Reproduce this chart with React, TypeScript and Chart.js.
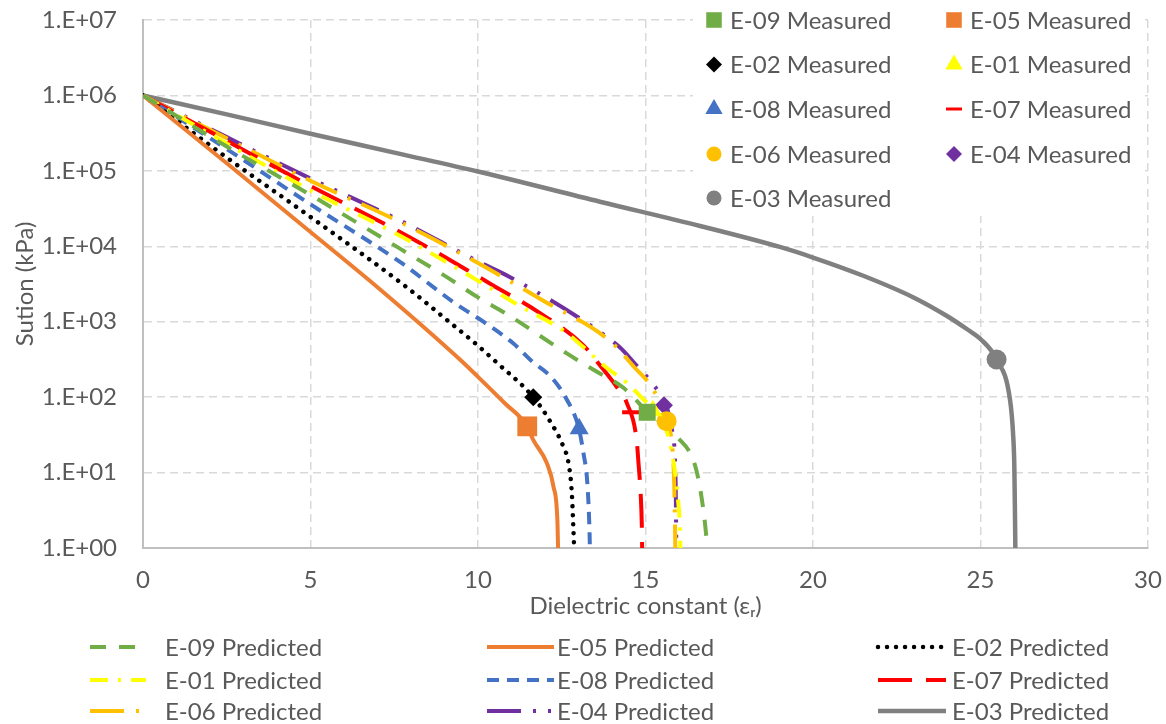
import React, { useEffect, useRef } from 'react';
import { Chart, registerables } from 'chart.js';
import { drawPoint } from 'chart.js/helpers';

Chart.register(...registerables);

const FONT = 'Lato, "Open Sans", sans-serif';
const TEXT = '#595959';

// ---------- Predicted curves (dielectric constant, suction kPa) ----------
const e09PredX = [0, 2.5, 5, 7.67, 9.07, 10, 10.86, 12.65, 13.46, 14.34, 15.03, 15.95, 16.48, 16.68, 16.81, 16.84];
const e09PredY = [1e6, 2.1e5, 4.8e4, 9.3e3, 3.9e3, 2.1e3, 1.26e3, 380, 229, 133, 66, 29.5, 12.4, 4.5, 1.5, 1];

const e05PredX = [0, 2.5, 5, 7.07, 9.46, 10, 10.8, 11.47, 11.64, 12.05, 12.25, 12.37, 12.39];
const e05PredY = [1e6, 1.26e5, 1.55e4, 2.7e3, 316, 186, 83, 41, 27.5, 13.5, 6.6, 2.3, 1];

const e02PredX = [0, 2.5, 5, 7.77, 9.16, 10, 10.56, 11.65, 12.15, 12.55, 12.7, 12.8, 12.85, 12.87];
const e02PredY = [1e6, 1.5e5, 2.45e4, 3.1e3, 980, 480, 287, 100, 48, 22, 13.5, 5.4, 1.7, 1];

const e01PredX = [0, 2.5, 5, 7.67, 10, 11.15, 12.6, 13.84, 14.44, 14.94, 15.23, 15.73, 15.98, 16.03, 16.04];
const e01PredY = [1e6, 2.3e5, 5.5e4, 1.38e4, 3.5e3, 1.71e3, 733, 245, 155, 93, 69, 24.5, 3.9, 1.7, 1];

const e08PredX = [0, 2.5, 5, 7.67, 9.31, 10.16, 11.05, 11.6, 12.2, 12.65, 13.0, 13.14, 13.27, 13.33, 13.34];
const e08PredY = [1e6, 1.95e5, 3.6e4, 6.2e3, 1.76e3, 1e3, 518, 301, 181, 93, 40, 19, 6.6, 1.6, 1];

const e07PredX = [0, 2.5, 5, 7.67, 9.01, 10.44, 11.85, 13.14, 13.64, 14.16, 14.44, 14.74, 14.79, 14.86, 14.89, 14.9];
const e07PredY = [1e6, 2.5e5, 6.3e4, 1.55e4, 7.2e3, 3.05e3, 1.3e3, 490, 265, 133, 84, 26, 13.5, 4.8, 2, 1];

const e06PredX = [0, 2.5, 5, 7.67, 10, 11.95, 13.94, 14.64, 15.23, 15.63, 15.81, 15.86, 15.88, 15.89];
const e06PredY = [1e6, 2.7e5, 7.4e4, 2.1e4, 6e3, 1.9e3, 556, 257, 126, 50, 19, 6.3, 2, 1];

const e04PredX = [0, 2.5, 5, 7.67, 10, 10.96, 13.36, 14.24, 14.64, 15.33, 15.58, 15.79, 15.9, 15.92];
const e04PredY = [1e6, 2.8e5, 7.9e4, 2.2e4, 6.3e3, 3.9e3, 890, 454, 292, 129, 85, 37, 7.2, 1];

const e03PredX = [0, 2.5, 5, 7.67, 10, 13.64, 16.63, 19.01, 20, 21.5, 23, 24, 24.6, 25, 25.48, 25.88, 25.97, 26.01, 26.03, 26.04];
const e03PredY = [1e6, 5.6e5, 3.1e5, 1.68e5, 9.8e4, 3.9e4, 1.86e4, 9.8e3, 7.1e3, 4.07e3, 2.1e3, 1.19e3, 794, 590, 316, 93, 34, 12, 2.6, 1];

// ---------- Measured points ----------
const measuredLabels = ['E-09', 'E-05', 'E-02', 'E-01', 'E-08', 'E-07', 'E-06', 'E-04', 'E-03'];
const measuredX = [15.05, 11.47, 11.65, 15.22, 13.02, 14.6, 15.63, 15.55, 25.48];
const measuredY = [63, 41, 100, 66, 38, 63, 48, 78, 316];

// ---------- Axis ticks ----------
const xTickValues = [0, 5, 10, 15, 20, 25, 30];
const yTickValues = [1, 10, 100, 1e3, 1e4, 1e5, 1e6, 1e7];
const yTickLabels = ['1.E+00', '1.E+01', '1.E+02', '1.E+03', '1.E+04', '1.E+05', '1.E+06', '1.E+07'];

const zip = (xs: number[], ys: number[]) => xs.map((x, i) => ({ x, y: ys[i] }));

const predicted = [
  { label: 'E-09 Predicted', x: e09PredX, y: e09PredY, color: '#70AD47', dash: [16, 13], width: 4, cap: 'butt' },
  { label: 'E-05 Predicted', x: e05PredX, y: e05PredY, color: '#ED7D31', dash: [], width: 4, cap: 'butt' },
  { label: 'E-02 Predicted', x: e02PredX, y: e02PredY, color: '#000000', dash: [0.01, 9], width: 4.5, cap: 'round' },
  { label: 'E-01 Predicted', x: e01PredX, y: e01PredY, color: '#FFFF00', dash: [18, 10, 3, 10], width: 4, cap: 'butt' },
  { label: 'E-08 Predicted', x: e08PredX, y: e08PredY, color: '#4472C4', dash: [12, 8], width: 4, cap: 'butt' },
  { label: 'E-07 Predicted', x: e07PredX, y: e07PredY, color: '#FF0000', dash: [34, 14], width: 4, cap: 'butt' },
  { label: 'E-06 Predicted', x: e06PredX, y: e06PredY, color: '#FFC000', dash: [34, 12, 3, 12], width: 4, cap: 'butt' },
  { label: 'E-04 Predicted', x: e04PredX, y: e04PredY, color: '#7030A0', dash: [34, 12, 3, 12, 3, 12], width: 4, cap: 'butt' },
  { label: 'E-03 Predicted', x: e03PredX, y: e03PredY, color: '#808080', dash: [], width: 4.5, cap: 'butt' },
];

const measuredStyle: Record<string, { color: string; style: string; r: number; lr: number }> = {
  'E-09': { color: '#70AD47', style: 'rect', r: 12, lr: 11 },
  'E-05': { color: '#ED7D31', style: 'rect', r: 14, lr: 11 },
  'E-02': { color: '#000000', style: 'rectRot', r: 9, lr: 8 },
  'E-01': { color: '#FFFF00', style: 'triangle', r: 11, lr: 10 },
  'E-08': { color: '#4472C4', style: 'triangle', r: 11, lr: 10 },
  'E-07': { color: '#FF0000', style: 'line', r: 10, lr: 8 },
  'E-06': { color: '#FFC000', style: 'circle', r: 10, lr: 7.5 },
  'E-04': { color: '#7030A0', style: 'rectRot', r: 9, lr: 8 },
  'E-03': { color: '#808080', style: 'circle', r: 10, lr: 7.5 },
};

const legendPlugin = {
  id: 'customLegends',
  afterDraw(chart: any) {
    const ctx: CanvasRenderingContext2D = chart.ctx;
    ctx.save();
    // measured legend box (inside plot, top right)
    ctx.fillStyle = '#ffffff';
    ctx.fillRect(693, 0, 450, 216);
    ctx.font = `24px ${FONT}`;
    ctx.textBaseline = 'middle';
    ctx.textAlign = 'left';
    const mRows = [20, 64.5, 109, 154, 198];
    const mCols = [{ mx: 714, tx: 730 }, { mx: 954, tx: 970 }];
    measuredLabels.forEach((lab, i) => {
      const row = Math.floor(i / 2);
      const col = i % 2;
      const st = measuredStyle[lab];
      const cx = mCols[col].mx;
      const cy = mRows[row];
      ctx.fillStyle = st.color;
      ctx.strokeStyle = st.color;
      ctx.lineWidth = st.style === 'line' ? 3 : 0;
      drawPoint(ctx, { pointStyle: st.style, rotation: 0, radius: st.lr, borderWidth: st.style === 'line' ? 3 : 0 } as any, cx, cy);
      ctx.fillStyle = TEXT;
      ctx.fillText(`${lab} Measured`, mCols[col].tx, cy + 1);
    });
    // predicted legend (below)
    const pRows = [647, 680, 711];
    const pCols = [{ x0: 90, x1: 146, tx: 165 }, { x0: 487, x1: 554, tx: 557 }, { x0: 878, x1: 946, tx: 952 }];
    predicted.forEach((p, i) => {
      const row = Math.floor(i / 3);
      const col = i % 3;
      const y = pRows[row];
      const c = pCols[col];
      ctx.save();
      ctx.strokeStyle = p.color;
      ctx.lineWidth = p.width;
      ctx.lineCap = p.cap as CanvasLineCap;
      ctx.setLineDash(p.dash);
      ctx.beginPath();
      ctx.moveTo(c.x0, y);
      ctx.lineTo(c.x1, y);
      ctx.stroke();
      ctx.restore();
      ctx.fillStyle = TEXT;
      ctx.fillText(p.label, c.tx, y + 1);
    });
    ctx.restore();
  },
};

export default function App() {
  const ref = useRef<HTMLCanvasElement>(null);
  useEffect(() => {
    document.body.style.margin = '0';
    const canvas = ref.current;
    if (!canvas) return;
    const measuredSets = measuredLabels.map((lab, i) => {
      const st = measuredStyle[lab];
      return {
        label: `${lab} Measured`,
        data: [{ x: measuredX[i], y: measuredY[i] }],
        showLine: false,
        order: 0,
        pointStyle: st.style,
        pointRadius: st.r,
        pointBackgroundColor: st.color,
        pointBorderColor: st.color,
        pointBorderWidth: st.style === 'line' ? 4 : 0,
      };
    });
    const lineSets = predicted.map((p) => ({
      label: p.label,
      data: zip(p.x, p.y),
      showLine: true,
      order: 1,
      borderColor: p.color,
      backgroundColor: p.color,
      borderWidth: p.width,
      borderDash: p.dash,
      borderCapStyle: p.cap,
      borderJoinStyle: 'round',
      cubicInterpolationMode: 'monotone',
      pointRadius: 0,
      fill: false,
    }));
    const chart = new Chart(canvas, {
      type: 'scatter',
      data: { datasets: [...measuredSets, ...lineSets] as any },
      plugins: [legendPlugin],
      options: {
        animation: false,
        responsive: false,
        events: [],
        layout: { padding: { left: 0, right: 18, top: 20, bottom: 103 } },
        plugins: { legend: { display: false }, tooltip: { enabled: false } },
        scales: {
          x: {
            type: 'linear',
            min: 0,
            max: 30,
            afterBuildTicks: (scale: any) => {
              scale.ticks = xTickValues.map((v) => ({ value: v }));
            },
            afterFit: (scale: any) => {
              scale.height = 73;
              scale.paddingLeft = 0;
              scale.paddingRight = 0;
            },
            grid: { color: '#D9D9D9', lineWidth: 1.5, drawTicks: false },
            border: { display: true, color: '#BFBFBF', width: 2, dash: [8, 5] },
            ticks: { color: TEXT, font: { family: FONT, size: 24 }, padding: 18, maxRotation: 0 },
            title: {
              display: true,
              text: 'Dielectric constant (εᵣ)',
              color: TEXT,
              font: { family: FONT, size: 24 },
              padding: { top: 0, bottom: 0 },
            },
          },
          y: {
            type: 'logarithmic',
            min: 1,
            max: 1e7,
            afterBuildTicks: (scale: any) => {
              scale.ticks = yTickValues.map((v) => ({ value: v }));
            },
            afterFit: (scale: any) => {
              scale.width = 143;
              scale.paddingTop = 0;
              scale.paddingBottom = 0;
            },
            grid: { color: '#D9D9D9', lineWidth: 1.5, drawTicks: false },
            border: { display: true, color: '#BFBFBF', width: 2, dash: [8, 5] },
            ticks: {
              color: TEXT,
              font: { family: FONT, size: 24 },
              padding: 26,
              callback: (_v: any, i: number) => yTickLabels[i],
            },
            title: {
              display: true,
              text: 'Sution (kPa)',
              color: TEXT,
              font: { family: FONT, size: 24 },
              padding: { top: 11, bottom: 0 },
            },
          },
        },
      } as any,
    });
    return () => chart.destroy();
  }, []);
  return (
    <div style={{ width: 1166, height: 724 }}>
      <canvas ref={ref} width={1166} height={724} style={{ display: 'block' }} />
    </div>
  );
}
